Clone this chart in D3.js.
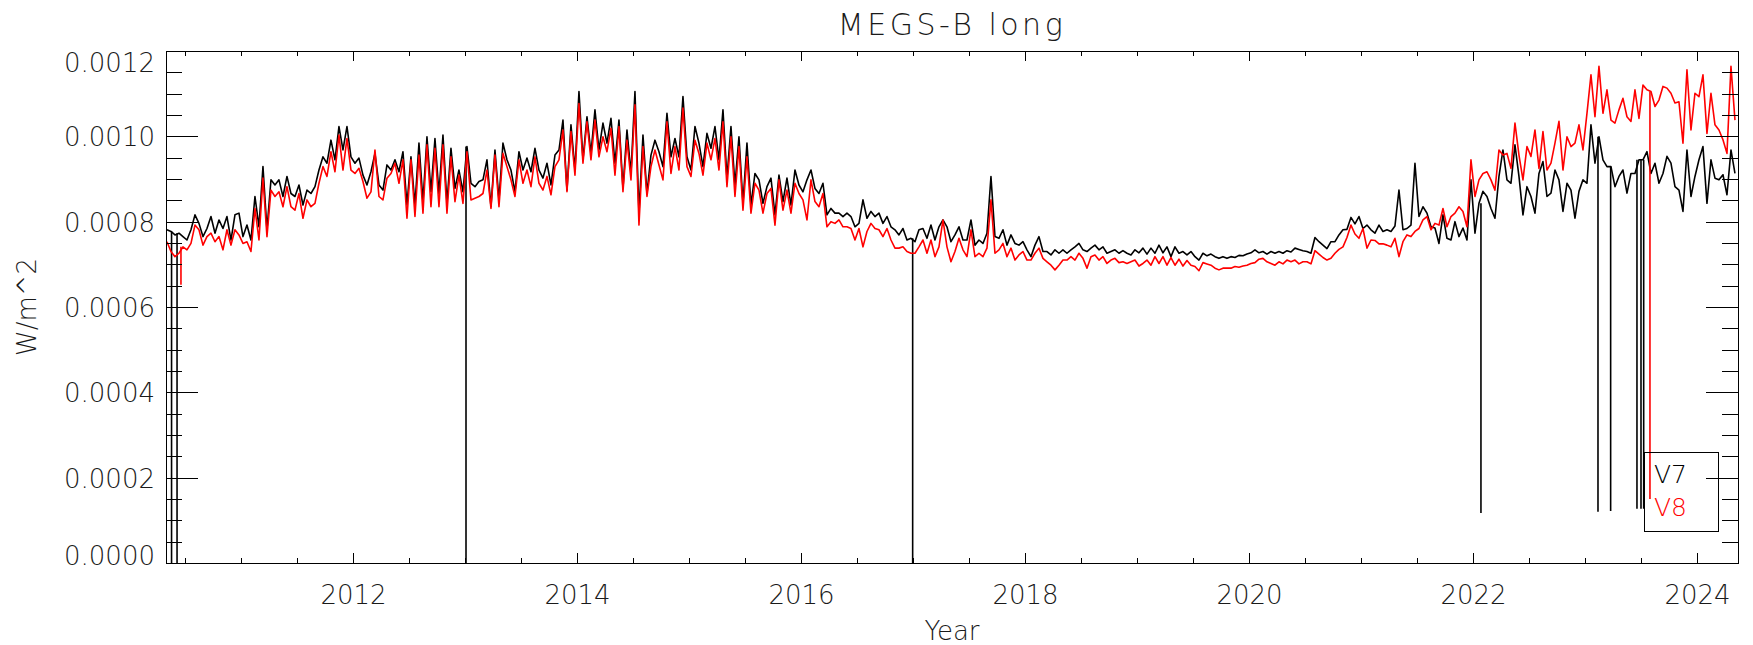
<!DOCTYPE html>
<html><head><meta charset="utf-8">
<script src="https://cdn.jsdelivr.net/npm/d3@7"></script>
<style>
body{margin:0;background:#fff;}
text{font-family:'DejaVu Sans','Liberation Sans',sans-serif;font-weight:200;fill:#1a1a1a;}
</style>
</head><body><svg id="c" width="1753" height="645"></svg>
<script>
// ---- data (irradiance in units of 1e-6 W/m^2), sampled every 1/28 yr from 2010.339 ----
const t0 = 2010.339, dt = 1 / 28;
const v7_2010_2013 = [781,777,769,773,765,757,781,816,796,765,784,812,773,804,784,812,757,816,820,765,792,757,859,788,929,781,898,886,898,859,906,866,859,886,839,874,866,882,921,952,937,991,945,1023,968,1023,952,937,949,909,886,917,960,886,874,933,921,945,917,964,839,952,839,984,847,999,870,995,866,1003,843,972,878,921,870,976,890,882,894];
const v7_2013_2016 = [898,945,835,968,851,984,945,921,870,964,921,949,917,972,921,902,937,886,956,968,1038,874,1027,921,1105,945,1046,960,1062,968,1031,984,1042,937,1038,878,1015,913,1105,820,1003,866,956,991,964,929,1054,952,995,952,1093,952,921,1023,984,929,1007,972,1023,945,1062,902,1023,886,999,843,984,839,913,898,843,882,902,816,909,847,902,839,921];
const v7_2016_2018 = [886,870,898,921,878,866,890,816,831,820,820,812,820,812,788,796,851,808,824,812,820,796,812,788,781,769,784,757,761,753,781,784,761,792,757,788,804,788,753,769,788,757,757,804,745,757,749,773,906,765,761,781,745,769,749,745,753,734,718,745,765,730,730,722,734,726,734,726,734,741,749,734,730,738,745,734,741,726,730];
const v7_2018_2021 = [734,726,732,726,722,734,727,738,724,738,726,745,727,741,718,741,726,730,722,730,718,710,726,720,724,718,714,718,714,718,716,721,720,724,727,734,727,730,724,730,726,730,726,732,729,738,735,732,730,726,763,753,745,737,753,753,769,781,782,810,795,812,784,792,781,773,792,777,781,777,790,874,781,784,792,937,812,835];
const v7_2021_2024 = [820,788,785,749,816,761,757,800,765,785,757,898,773,843,871,859,831,808,906,968,898,890,980,906,816,882,859,820,913,941,859,867,921,898,824,890,874,808,871,898,890,1027,937,999,945,929,929,882,906,921,867,913,913,945,945,964,913,937,890,913,953,937,882,874,824,968,859,906,945,976,843,945,902,898,910,863,968,913];

const v8_2010_2013 = [753,730,718,726,741,734,749,792,781,745,765,773,753,765,734,781,745,781,769,749,753,730,831,757,902,765,874,859,870,835,882,835,827,866,808,851,835,843,890,929,906,964,917,1003,921,995,921,913,925,894,855,870,968,859,851,902,913,937,890,945,808,945,812,956,820,980,835,972,835,980,820,952,847,909,843,964,851,855,859];
const v8_2013_2016 = [866,921,831,956,835,960,929,898,859,945,890,921,882,952,890,874,906,863,929,945,1015,870,1011,909,1077,937,1034,945,1038,952,999,964,1019,909,1023,870,991,898,1074,792,976,859,929,968,933,898,1034,913,976,921,1066,929,906,991,960,909,984,945,995,921,1034,882,999,859,976,827,952,820,890,874,820,866,878,792,898,827,874,820,890];
const v8_2016_2018 = [866,851,804,898,847,835,866,788,800,796,804,788,788,784,757,784,741,777,796,784,781,765,784,757,738,738,741,730,726,726,741,757,726,757,718,741,804,741,706,730,761,734,718,781,718,726,718,738,851,726,734,749,718,738,710,722,730,710,710,726,738,714,706,698,687,698,710,710,718,710,726,714,691,718,722,710,718,702,710];
const v8_2018_2021 = [714,704,706,702,706,710,696,702,710,698,718,702,718,698,716,698,712,696,709,698,695,685,704,701,698,691,687,691,691,691,695,693,696,698,702,704,712,714,706,702,698,706,701,710,706,710,701,706,706,701,732,724,716,710,714,726,735,741,763,792,771,761,784,738,757,756,748,748,745,741,761,718,753,769,765,777,784,804];
const v8_2021_2024 = [812,781,796,792,831,788,812,820,835,824,788,945,859,898,913,917,898,874,968,956,960,925,1031,956,898,976,953,1015,925,1011,921,937,984,1035,921,999,976,984,1027,968,1054,1144,1046,1164,1054,1109,1038,1031,1062,1089,1046,1035,1109,1042,1120,1109,1105,1070,1085,1117,1113,1101,1078,1081,984,1156,1015,1101,1093,1144,1007,1101,1027,1015,992,960,1164,1038];

// data dropouts (year, lowest value)
const v7DropYears = [2010.380, 2010.429, 2013.009, 2016.997, 2022.071, 2023.116, 2023.229, 2023.464, 2023.500, 2023.524];
const v7DropLows  = [0, 0, 0, 0, 117, 120, 122, 127, 127, 127];
const v8DropYears = [2010.464, 2023.580];
const v8DropLows  = [652, 150];

const xMajorTicks = [2012, 2014, 2016, 2018, 2020, 2022, 2024];
const xMinorTicks = d3.range(2010.5, 2024.4, 0.5);
const yMajorTicks = [0, 200, 400, 600, 800, 1000, 1200];
const yMinorTicks = d3.range(0, 1201, 50);
const seriesNames = ["V7", "V8"];
const seriesColors = ["#000000", "#ff0000"];

// ---- chart ----
const W = 1753, H = 645;
const m = {l: 166, r: 1738, t: 51, b: 563};
const x = d3.scaleLinear().domain([2010.3304, 2024.3661]).range([m.l, m.r]);
const y = d3.scaleLinear().domain([0, 1200]).range([m.b, m.t]);
const svg = d3.select('#c');
svg.append('rect').attr('width', W).attr('height', H).attr('fill', '#fff');
svg.append('clipPath').attr('id', 'clip').append('rect')
  .attr('x', m.l).attr('y', m.t).attr('width', m.r - m.l).attr('height', m.b - m.t);

const v7 = [].concat(v7_2010_2013, v7_2013_2016, v7_2016_2018, v7_2018_2021, v7_2021_2024);
const v8 = [].concat(v8_2010_2013, v8_2013_2016, v8_2016_2018, v8_2018_2021, v8_2021_2024);
const toPts = arr => arr.map((v, i) => [t0 + i * dt, v]);
const series = [toPts(v7), toPts(v8)];
const drops = [[v7DropYears, v7DropLows], [v8DropYears, v8DropLows]];

const line = d3.line().x(d => x(d[0])).y(d => y(d[1]));
const g = svg.append('g').attr('clip-path', 'url(#clip)');
series.forEach((pts, si) => {
  g.append('path').datum(pts).attr('d', line)
    .attr('fill', 'none').attr('stroke', seriesColors[si]).attr('stroke-width', 1.6)
    .attr('stroke-linejoin', 'round');
  const [yrs, lows] = drops[si];
  yrs.forEach((yr, k) => {
    const idx = Math.max(0, Math.min(pts.length - 1, Math.round((yr - t0) / dt)));
    g.append('line').attr('x1', x(yr)).attr('x2', x(yr))
      .attr('y1', y(pts[idx][1])).attr('y2', y(lows[k]))
      .attr('stroke', seriesColors[si]).attr('stroke-width', 1.6);
  });
});

// axes
function styleAxis(sel) {
  sel.select('.domain').remove();
  sel.selectAll('line').attr('stroke', '#000').attr('stroke-width', 1).attr('shape-rendering', 'crispEdges');
  sel.attr('font-family', null).attr('font-size', null);
}
const gb = svg.append('g').attr('transform', `translate(0,${m.b})`)
  .call(d3.axisBottom(x).tickValues(xMajorTicks).tickSize(-10).tickSizeOuter(0).tickFormat(d3.format('d')));
styleAxis(gb);
gb.selectAll('text').attr('y', 41).attr('dy', null).style('font-size', '26px').attr('fill', '#1a1a1a');
const gbm = svg.append('g').attr('transform', `translate(0,${m.b})`)
  .call(d3.axisBottom(x).tickValues(xMinorTicks).tickSize(-5).tickSizeOuter(0).tickFormat(''));
styleAxis(gbm);
const gt = svg.append('g').attr('transform', `translate(0,${m.t})`)
  .call(d3.axisTop(x).tickValues(xMajorTicks).tickSize(-10).tickSizeOuter(0).tickFormat(''));
styleAxis(gt);
const gtm = svg.append('g').attr('transform', `translate(0,${m.t})`)
  .call(d3.axisTop(x).tickValues(xMinorTicks).tickSize(-5).tickSizeOuter(0).tickFormat(''));
styleAxis(gtm);

const gl = svg.append('g').attr('transform', `translate(${m.l},0)`)
  .call(d3.axisLeft(y).tickValues(yMajorTicks).tickSize(-32).tickSizeOuter(0).tickFormat(d => d3.format('.4f')(d * 1e-6)));
styleAxis(gl);
gl.selectAll('text').attr('x', -11).attr('dy', null)
  .attr('y', d => d === 0 ? 1 : (d === 1200 ? 20 : 9.5))
  .style('font-size', '26px').attr('fill', '#1a1a1a');
const glm = svg.append('g').attr('transform', `translate(${m.l},0)`)
  .call(d3.axisLeft(y).tickValues(yMinorTicks).tickSize(-16).tickSizeOuter(0).tickFormat(''));
styleAxis(glm);
const gr = svg.append('g').attr('transform', `translate(${m.r},0)`)
  .call(d3.axisRight(y).tickValues(yMajorTicks).tickSize(-32).tickSizeOuter(0).tickFormat(''));
styleAxis(gr);
const grm = svg.append('g').attr('transform', `translate(${m.r},0)`)
  .call(d3.axisRight(y).tickValues(yMinorTicks).tickSize(-16).tickSizeOuter(0).tickFormat(''));
styleAxis(grm);

svg.append('rect').attr('x', m.l).attr('y', m.t).attr('width', m.r - m.l).attr('height', m.b - m.t)
  .attr('fill', 'none').attr('stroke', '#000').attr('stroke-width', 1).attr('shape-rendering', 'crispEdges');

// titles
svg.append('text').attr('x', (m.l + m.r) / 2).attr('y', 35).attr('text-anchor', 'middle')
  .style('font-size', '30px').style('letter-spacing', '3.5px').text('MEGS-B long');
svg.append('text').attr('x', (m.l + m.r) / 2).attr('y', 640).attr('text-anchor', 'middle')
  .style('font-size', '26px').text('Year');
svg.append('text').attr('transform', `translate(36,${(m.t + m.b) / 2}) rotate(-90)`).attr('text-anchor', 'middle')
  .style('font-size', '26px').text('W/m^2');

// legend
const lg = svg.append('g');
lg.append('rect').attr('x', 1644).attr('y', 452).attr('width', 74).attr('height', 79)
  .attr('fill', 'none').attr('stroke', '#000').attr('stroke-width', 1).attr('shape-rendering', 'crispEdges');
seriesNames.forEach((n, i) => {
  lg.append('text').attr('x', 1654).attr('y', 483 + i * 33).style('font-size', '25px')
    .style('fill', seriesColors[i]).text(n);
});
</script>
</body></html>
